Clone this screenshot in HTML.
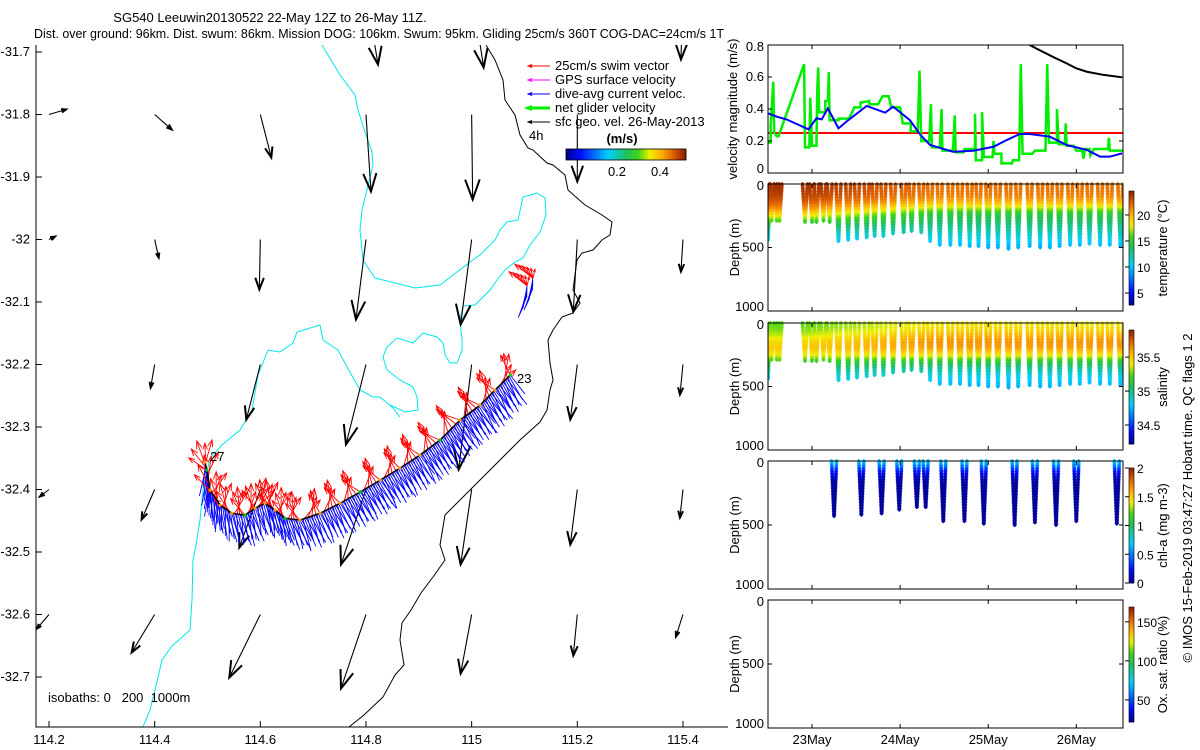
<!DOCTYPE html>
<html><head><meta charset="utf-8"><title>SG540 Leeuwin glider</title>
<style>
html,body{margin:0;padding:0;background:#fff;}
svg{display:block;font-family:"Liberation Sans",sans-serif;}
text{font-size:13px;fill:#000;}
</style></head>
<body>
<svg id="fig" width="1200" height="750" viewBox="0 0 1200 750" xmlns="http://www.w3.org/2000/svg">
<text x="270" y="22" text-anchor="middle">SG540 Leeuwin20130522 22-May 12Z to 26-May 11Z.</text>
<text x="34" y="38" textLength="690" lengthAdjust="spacingAndGlyphs">Dist. over ground: 96km. Dist. swum: 86km. Mission DOG: 106km. Swum: 95km. Gliding 25cm/s 360T COG-DAC=24cm/s 1T</text>
<g id="map"></g>
<g id="right"></g>
<text transform="translate(1192,498) rotate(-90)" text-anchor="middle">© IMOS 15-Feb-2019 03:47:27 Hobart time. QC flags 1 2</text>
</svg>
<script>
// ---------------- DATA ----------------
const geoLon = [114.8,115.0,115.4, 114.2,114.4,114.6,114.8,115.0,115.2, 114.2,114.4,114.6,114.8,115.0,115.2,115.4, 114.4,114.6,114.8,115.0,115.2,115.4, 114.2,114.4,114.6,114.8,115.0,115.2,115.4, 114.2,114.4,114.6,114.8,115.0,115.2,115.4];
const geoLat = [-31.6,-31.6,-31.6, -31.8,-31.8,-31.8,-31.8,-31.8,-31.8, -32.0,-32.0,-32.0,-32.0,-32.0,-32.0,-32.0, -32.2,-32.2,-32.2,-32.2,-32.2,-32.2, -32.4,-32.4,-32.4,-32.4,-32.4,-32.4,-32.4, -32.6,-32.6,-32.6,-32.6,-32.6,-32.6,-32.6];
const geoU = [0.12,0.12,-0.02, 0.17,0.17,0.11,0.05,0.01,0.0, 0.06,0.04,-0.01,-0.10,-0.11,-0.04,-0.02, -0.04,-0.14,-0.20,-0.13,-0.07,-0.03, -0.09,-0.13,-0.21,-0.25,-0.11,-0.07,-0.03, -0.12,-0.23,-0.31,-0.25,-0.11,-0.04,-0.07];
const geoV = [-0.75,-0.78,-0.70, 0.05,-0.15,-0.43,-0.77,-0.85,-0.67, 0.03,-0.18,-0.50,-0.80,-0.85,-0.72,-0.32, -0.23,-0.55,-0.80,-1.05,-0.55,-0.30, -0.07,-0.30,-0.58,-0.75,-0.75,-0.55,-0.28, -0.14,-0.38,-0.63,-0.74,-0.59,-0.41,-0.22];
const trackLon = [115.073,115.044,115.016,114.978,114.940,114.902,114.864,114.827,114.789,114.751,114.713,114.675,114.647,114.628,114.609,114.590,114.571,114.546,114.524,114.505,114.499,114.495];
const trackLat = [-32.217,-32.241,-32.265,-32.289,-32.321,-32.345,-32.366,-32.385,-32.404,-32.422,-32.438,-32.449,-32.446,-32.433,-32.422,-32.430,-32.441,-32.438,-32.425,-32.401,-32.369,-32.356];
const swimBearing = [10,340,330,325,330,340,350,345,340,350,5,355,0,350,10,0,355,345,0,350,340,330];
const currBearing = [150,148,148,148,148,150,150,150,152,155,158,160,165,168,165,165,168,172,178,182,185,185];
const blueDay = [22.50,22.60,22.71,22.96,23.05,23.11,23.18,23.30,23.39,23.62,23.83,23.92,24.11,24.23,24.34,24.60,24.83,25.06,25.21,25.36,25.47,25.70,25.89,26.12,26.27,26.38,26.52];
const blueVal = [0.373,0.352,0.335,0.273,0.342,0.335,0.404,0.279,0.321,0.419,0.377,0.415,0.331,0.238,0.175,0.133,0.139,0.164,0.206,0.244,0.244,0.227,0.175,0.144,0.102,0.102,0.123];
const blackDay = [25.47,25.58,25.73,25.89,26.00,26.12,26.31,26.52];
const blackVal = [0.80,0.769,0.727,0.685,0.654,0.633,0.613,0.598];
const greenDay = [22.50,22.53,22.53,22.56,22.57,22.60,22.62,22.91,22.92,22.97,22.98,23.00,23.05,23.06,23.07,23.08,23.15,23.15,23.18,23.19,23.20,23.30,23.30,23.42,23.48,23.55,23.55,23.65,23.65,23.75,23.80,23.87,23.90,24.00,24.03,24.12,24.12,24.20,24.22,24.24,24.33,24.35,24.36,24.45,24.47,24.48,24.60,24.62,24.63,24.72,24.73,24.85,24.85,24.86,24.93,24.93,24.95,25.05,25.06,25.07,25.15,25.15,25.27,25.28,25.35,25.36,25.37,25.39,25.50,25.53,25.65,25.66,25.67,25.69,25.78,25.78,25.80,25.87,25.88,25.89,25.97,26.00,26.07,26.08,26.10,26.15,26.16,26.20,26.36,26.37,26.38,26.53];
const greenVal = [0.19,0.19,0.30,0.57,0.25,0.23,0.23,0.68,0.16,0.16,0.47,0.17,0.17,0.53,0.66,0.38,0.38,0.45,0.45,0.63,0.33,0.33,0.34,0.34,0.41,0.41,0.44,0.45,0.43,0.43,0.48,0.48,0.41,0.41,0.31,0.31,0.26,0.26,0.64,0.20,0.20,0.43,0.16,0.16,0.40,0.14,0.14,0.36,0.13,0.13,0.15,0.15,0.37,0.08,0.08,0.38,0.10,0.10,0.20,0.12,0.12,0.06,0.06,0.08,0.08,0.37,0.68,0.12,0.12,0.14,0.14,0.40,0.68,0.19,0.19,0.40,0.18,0.18,0.31,0.17,0.17,0.14,0.14,0.09,0.15,0.15,0.11,0.15,0.15,0.22,0.14,0.14];
const swimSpeed = 0.25;
const diveDay = [22.50,22.54,22.60,22.63,22.92,23.00,23.05,23.13,23.20,23.30,23.41,23.51,23.62,23.71,23.81,23.92,24.04,24.13,24.24,24.34,24.45,24.57,24.68,24.79,24.89,25.00,25.11,25.23,25.34,25.47,25.59,25.70,25.81,25.93,26.04,26.15,26.27,26.38,26.50];
const diveMax = [440,290,290,290,300,300,300,290,300,450,440,430,420,410,410,390,380,370,380,450,480,480,480,490,490,500,500,510,500,490,500,500,490,480,480,470,480,480,490];
const profDepth = [0,50,100,150,200,250,300,350,400,450,500,550];
const tempEarly = [24.0,23.8,23.3,22.5,21.0,18.5,15.5,13,11.5,10,9.5,9];
const tempLate  = [22.0,21.8,21.5,20.0,17.0,14.5,13.5,12.5,11.5,10.5,9.5,9.0];
const salEarly = [35.25,35.28,35.35,35.45,35.50,35.42,35.22,35.05,34.92,34.84,34.78,34.75];
const salLate  = [35.42,35.45,35.55,35.62,35.60,35.45,35.20,35.00,34.88,34.80,34.75,34.72];
const chlDay = [23.25,23.56,23.79,23.99,24.19,24.29,24.49,24.73,24.95,25.30,25.53,25.77,26.00,26.46];
const chlMax = [430,420,410,380,360,360,470,470,490,500,480,500,470,490];
const chlDepth = [0,25,50,75,100,150,200,600];
const chlVal = [0.65,0.6,0.45,0.3,0.18,0.06,0.03,0.02];
const mapXTicks = [114.2,114.4,114.6,114.8,115,115.2,115.4];
const mapYTicks = [-31.7,-31.8,-31.9,-32,-32.1,-32.2,-32.3,-32.4,-32.5,-32.6,-32.7];
const dateTicks = [23,24,25,26];
const dateLabels = ['23May','24May','25May','26May'];
const velTicks = [0,0.2,0.4,0.6,0.8];
const depthTicks = [0,500,1000];

// ---------------- HELPERS ----------------
const NS='http://www.w3.org/2000/svg';
function mk(parent,tag,attrs){const e=document.createElementNS(NS,tag);for(const k in attrs)e.setAttribute(k,attrs[k]);parent.appendChild(e);return e;}
const map=document.getElementById('map');
const right=document.getElementById('right');
const MX=lon=>49+(lon-114.2)*528.3;
const MY=lat=>52+(-31.7-lat)*625;
const stops=[[0,[0,0,143]],[0.12,[0,16,255]],[0.35,[0,208,255]],[0.5,[32,192,96]],[0.6,[60,210,30]],[0.7,[240,240,0]],[0.8,[255,176,0]],[0.9,[224,96,0]],[1,[139,32,0]]];
function cmap(t){t=Math.max(0,Math.min(1,t));for(let i=1;i<stops.length;i++){if(t<=stops[i][0]){const a=stops[i-1],b=stops[i];const f=(t-a[0])/(b[0]-a[0]);const c=a[1].map((v,j)=>Math.round(v+(b[1][j]-v)*f));return 'rgb('+c.join(',')+')';}}return 'rgb(139,32,0)';}
function interp(xs,ys,x){if(x<=xs[0])return ys[0];for(let i=1;i<xs.length;i++){if(x<=xs[i]){const f=(x-xs[i-1])/(xs[i]-xs[i-1]);return ys[i-1]+(ys[i]-ys[i-1])*f;}}return ys[ys.length-1];}
function arrow(g,x0,y0,x1,y1,color,w,hs,hmin,hw){
  const grp=mk(g,'g',{stroke:color,fill:'none'});
  mk(grp,'line',{x1:x0,y1:y0,x2:x1,y2:y1,'stroke-width':w});
  const dx=x1-x0,dy=y1-y0,L=Math.hypot(dx,dy)||1;const h=Math.max(hmin,L*hs);const a=Math.atan2(dy,dx);
  const hx1=x1-h*Math.cos(a-0.35),hy1=y1-h*Math.sin(a-0.35),hx2=x1-h*Math.cos(a+0.35),hy2=y1-h*Math.sin(a+0.35);
  mk(grp,'path',{d:'M'+hx1+' '+hy1+'L'+x1+' '+y1+'L'+hx2+' '+hy2,'stroke-width':hw});
  return grp;}

// ---------------- MAP ----------------
const clp=mk(map,'clipPath',{id:'mapclip'});
mk(clp,'rect',{x:36,y:45,width:692,height:682});
const mg=mk(map,'g',{'clip-path':'url(#mapclip)'});
const cyan1=mk(mg,'polyline',{points:'322,45 340,75 355,95 358,110 366,135 372,152 373,165 362,210 360,230 363,260 375,278 415,288 440,285 470,262 480,255 495,240 500,230 507,222 518,220 523,197 537,193 545,198 546,215 540,232 530,245 523,258 515,262 505,270 497,280 490,290 475,305 463,306 460,320 462,340 462,350 457,363 450,363 445,355 443,343 437,337 423,333 413,343 397,338 387,347 383,357 387,370 400,380 413,387 417,397 418,410 405,412 390,405',fill:'none',stroke:'#00e5ee','stroke-width':1});


const cyan2=mk(mg,'polyline',{points:'400,417 393,408 380,397 373,397 360,390 347,367 338,350 323,340 320,325 297,332 293,343 280,352 268,350 258,375 252,410 240,430 222,445 210,458 203,490 200,520 196,545 193,560 192,600 190,630 172,646 162,660 155,690 150,710 143,727',fill:'none',stroke:'#00e5ee','stroke-width':1});


const blk=mk(mg,'polyline',{points:'486,45 495,60 503,80 505,100 515,115 520,135 528,148 533,150 547,163 553,165 565,175 568,190 585,205 602,215 612,222 610,235 602,240 593,250 582,253 577,260 573,290 580,303 573,313 562,317 553,330 548,340 550,363 553,380 550,390 547,410 540,422 520,440 490,470 460,500 445,515 440,545 445,560 433,577 421,593 411,610 402,623 400,640 404,665 395,675 383,697 364,715 349,727',fill:'none',stroke:'#000','stroke-width':1});


for(let i=0;i<geoLon.length;i++){
  const x0=MX(geoLon[i]),y0=MY(geoLat[i]);
  const a=arrow(mg,x0,y0,x0+geoU[i]*100,y0-geoV[i]*100,'#000',1.1,0.25,5,2);
  
  
}
const tg=mk(mg,'g',{});
for(let i=0;i<trackLon.length-1;i++){
  const xa=MX(trackLon[i]),ya=MY(trackLat[i]),xb=MX(trackLon[i+1]),yb=MY(trackLat[i+1]);
  const n=Math.max(4,Math.round(Math.hypot(xb-xa,yb-ya)/1.6));
  for(let k=0;k<n;k++){
    const f=k/n,x=xa+(xb-xa)*f,y=ya+(yb-ya)*f;
    const cb=(currBearing[i]+(k%3-1)*8)*Math.PI/180;
    const ln=24+(k%4)*3;
    const l=mk(tg,'line',{x1:x,y1:y,x2:x+ln*Math.sin(cb),y2:y-ln*Math.cos(cb),stroke:'#0000ff','stroke-width':0.9});
    
    
  }
}
for(let i=0;i<trackLon.length-1;i++){
  const xa=MX(trackLon[i]),ya=MY(trackLat[i]),xb=MX(trackLon[i+1]),yb=MY(trackLat[i+1]);
  for(let k=0;k<5;k++){
    const f=k/5,x=xa+(xb-xa)*f,y=ya+(yb-ya)*f;
    const sb=(swimBearing[i]+(k-2)*18)*Math.PI/180;
    const L=swimSpeed*110*(0.8+0.1*(k%3));
    const a=arrow(tg,x,y,x+L*Math.sin(sb),y-L*Math.cos(sb),'#ff0000',0.9,0.3,3,0.9);
    
    
  }
}
const trk=mk(tg,'polyline',{points:trackLon.map((v,i)=>MX(v)+','+MY(trackLat[i])).join(' '),fill:'none',stroke:'#000','stroke-width':1.5});


for(let i=0;i<trackLon.length;i++){
  const d=mk(tg,'circle',{cx:MX(trackLon[i]),cy:MY(trackLat[i]),r:1.6,fill:i%4==0?'#00cc00':'#ff9900'});
  
  
}
const sLon=[115.116,115.105],sLat=[-32.062,-32.074];
for(let i=0;i<2;i++){for(let k=0;k<6;k++){
  const x=MX(sLon[i]),y=MY(sLat[i])+k*2;
  const l=mk(tg,'line',{x1:x,y1:y,x2:x-4-k,y2:y+22,stroke:'#0000ff','stroke-width':0.9});
  
  
  const a=arrow(tg,x,MY(sLat[i]),x+(k-3)*4-6,MY(sLat[i])-14+k,'#ff0000',0.9,0.3,3,0.9);
  
  
}}
[['23',517,383],['27',210,461]].forEach(t=>{const e=mk(map,'text',{x:t[1],y:t[2]});e.textContent=t[0];
  
  });
const ax=mk(map,'path',{d:'M36 45V727H728',stroke:'#000',fill:'none','stroke-width':1});


mapXTicks.forEach(v=>{const x=MX(v);
  const t=mk(map,'line',{x1:x,y1:727,x2:x,y2:721,stroke:'#000'});
  
  
  const l=mk(map,'text',{x:x,y:744,'text-anchor':'middle'});l.textContent=String(v);
  
  });
mapYTicks.forEach(v=>{const y=MY(v);
  const t=mk(map,'line',{x1:36,y1:y,x2:42,y2:y,stroke:'#000'});
  
  
  const l=mk(map,'text',{x:30,y:y+4,'text-anchor':'end'});l.textContent=String(v);
  
  });
const iso=mk(map,'text',{x:48,y:702});iso.textContent='isobaths: 0   200  1000m';


iso.setAttribute('style','white-space:pre');
const legItems=[['25cm/s swim vector','#ff0000',1],['GPS surface velocity','#ff00ff',1],['dive-avg current veloc.','#0000ff',1],['net glider velocity','#00ee00',3],['sfc geo. vel. 26-May-2013','#000',1]];
legItems.forEach((it,i)=>{const y=66+i*14;
  const a=arrow(map,550,y,528,y,it[1],it[2],0.2,4,it[2]);
  
  
  const t=mk(map,'text',{x:555,y:y+4});t.textContent=it[0];
  
  });
const h4=mk(map,'text',{x:529,y:140});h4.textContent='4h';


const ms=mk(map,'text',{x:622,y:143,'text-anchor':'middle','font-weight':'bold'});ms.textContent='(m/s)';


for(let i=0;i<60;i++){const r=mk(map,'rect',{x:566+i*2,y:149,width:2.2,height:11,fill:cmap(i/59)});
  
  }
mk(map,'rect',{x:566,y:149,width:120,height:11,fill:'none',stroke:'#000','stroke-width':0.8});
[['0.2',617],['0.4',660]].forEach(t=>{const e=mk(map,'text',{x:t[1],y:176,'text-anchor':'middle'});e.textContent=t[0];
  
  });

// ---------------- RIGHT PANELS ----------------
const L0=768,R0=1123,D0=22.5,D1=26.53;
const TX=d=>L0+(d-D0)/(D1-D0)*(R0-L0);
const panels=[{t:45,b:173},{t:184,b:311},{t:323,b:450},{t:461,b:589},{t:600,b:728}];
function frame(p,name){
  const r=mk(right,'rect',{x:L0,y:p.t,width:R0-L0,height:p.b-p.t,fill:'none',stroke:'#000','stroke-width':1});
  
  
}
const p1=panels[0];const VY=v=>p1.b-v/0.8*(p1.b-p1.t);
const cl1=mk(right,'clipPath',{id:'c1'});mk(cl1,'rect',{x:L0,y:p1.t,width:R0-L0,height:p1.b-p1.t});
const g1=mk(right,'g',{'clip-path':'url(#c1)'});
const rl=mk(g1,'line',{x1:L0,x2:R0,y1:VY(swimSpeed),y2:VY(swimSpeed),stroke:'#ff0000','stroke-width':2});


const gl=mk(g1,'polyline',{points:greenDay.map((d,i)=>TX(d)+','+VY(greenVal[i])).join(' '),fill:'none',stroke:'#00ee00','stroke-width':2.5});


const bl=mk(g1,'polyline',{points:blueDay.map((d,i)=>TX(d)+','+VY(blueVal[i])).join(' '),fill:'none',stroke:'#0000ff','stroke-width':2});


const kl=mk(g1,'polyline',{points:blackDay.map((d,i)=>TX(d)+','+VY(blackVal[i])).join(' '),fill:'none',stroke:'#000','stroke-width':2});


frame(p1,'velocity-axes');
velTicks.forEach(v=>{const y=VY(v);
  mk(right,'path',{d:'M'+L0+' '+y+'h4M'+R0+' '+y+'h-4',stroke:'#000'});
  const e=mk(right,'text',{x:L0-4,y:y+(v==0.8?6:v==0?0:4),'text-anchor':'end'});e.textContent=String(v);
  
  });
const vt=mk(right,'text',{transform:'translate(737,109) rotate(-90)','text-anchor':'middle'});vt.textContent='velocity magnitude (m/s)';



function depthPanel(idx,name,cbName,cbLabel,cbMin,cbMax,cbTicks){
  const p=panels[idx];const DY=d=>p.t+d/1000*(p.b-p.t);
  const cid='cp'+idx;const cl=mk(right,'clipPath',{id:cid});mk(cl,'rect',{x:L0,y:p.t-3,width:R0-L0,height:p.b-p.t+3});
  const g=mk(right,'g',{'clip-path':'url(#'+cid+')'});
  frame(p,name);
  depthTicks.forEach(v=>{const y=DY(v);
    mk(right,'path',{d:'M'+L0+' '+y+'h4M'+R0+' '+y+'h-4',stroke:'#000'});
    const e=mk(right,'text',{x:L0-4,y:y+(v==0?6:v==1000?0:4),'text-anchor':'end'});e.textContent=String(v);
    
    });
  const yt=mk(right,'text',{transform:'translate(739,'+((p.t+p.b)/2)+') rotate(-90)','text-anchor':'middle'});yt.textContent='Depth (m)';
  
  
  const cb={t:p.t+7,b:p.b-6};
  const CY=v=>cb.b-(v-cbMin)/(cbMax-cbMin)*(cb.b-cb.t);
  for(let i=0;i<40;i++){const r=mk(right,'rect',{x:1129,y:cb.b-(i+1)*(cb.b-cb.t)/40,width:5,height:(cb.b-cb.t)/40+0.4,fill:cmap((i+0.5)/40)});
    
    }
  mk(right,'rect',{x:1129,y:cb.t,width:5,height:cb.b-cb.t,fill:'none',stroke:'#000','stroke-width':0.6});
  cbTicks.forEach(v=>{const y=CY(v);mk(right,'line',{x1:1125,x2:1129,y1:y,y2:y,stroke:'#000'});
    const e=mk(right,'text',{x:1137,y:y+5,style:'font-size:12px'});e.textContent=String(v);
    
    });
  const ct=mk(right,'text',{transform:'translate(1167,'+((cb.t+cb.b)/2)+') rotate(-90)','text-anchor':'middle'});ct.textContent=cbLabel;
  
  
  return {g,DY,norm:v=>(v-cbMin)/(cbMax-cbMin)};
}
function divePoints(P,day,maxD,valFn,name){
  const half=0.028;const n=Math.round(maxD/12);
  for(let leg=0;leg<2;leg++)for(let k=0;k<=n;k++){
    const d=maxD*k/n;const t=leg==0?day-half+half*k/n:day+half-half*k/n;
    const x=TX(t),y=P.DY(d);const s=2.2;
    const r=mk(P.g,'path',{d:'M'+(x-s)+' '+y+'L'+x+' '+(y-s)+'L'+(x+s)+' '+y+'L'+x+' '+(y+s)+'Z',fill:cmap(P.norm(valFn(d,t)))});
    
    
  }
}
const wt=t=>Math.max(0,Math.min(1,(t-22.9)/1.5));
const PT=depthPanel(1,'temperature-axes','temperature-colorbar','temperature (°C)',2.7,24.6,[5,10,15,20]);
diveDay.forEach((d,i)=>divePoints(PT,d,diveMax[i],(z,t)=>{const w=wt(t);return interp(profDepth,tempEarly,z)*(1-w)+interp(profDepth,tempLate,z)*w;},'temperature-point'));
const PS=depthPanel(2,'salinity-axes','salinity-colorbar','salinity',34.22,35.9,[34.5,35,35.5]);
diveDay.forEach((d,i)=>divePoints(PS,d,diveMax[i],(z,t)=>{const w=wt(t);return interp(profDepth,salEarly,z)*(1-w)+interp(profDepth,salLate,z)*w;},'salinity-point'));
const PC=depthPanel(3,'chl-axes','chl-colorbar','chl-a (mg m-3)',0,2,[0,0.5,1,1.5,2]);
chlDay.forEach((d,i)=>divePoints(PC,d,chlMax[i],(z)=>interp(chlDepth,chlVal,z),'chl-point'));
const PO=depthPanel(4,'oxygen-axes','oxygen-colorbar','Ox. sat. ratio (%)',21.6,169,[50,100,150]);
dateTicks.forEach((d,i)=>{const x=TX(d);
  panels.forEach(p=>mk(right,'path',{d:'M'+x+' '+p.b+'v-4M'+x+' '+p.t+'v4',stroke:'#000'}));
  const e=mk(right,'text',{x:x,y:744,'text-anchor':'middle'});e.textContent=dateLabels[i];
  
  });
</script>
</body></html>
